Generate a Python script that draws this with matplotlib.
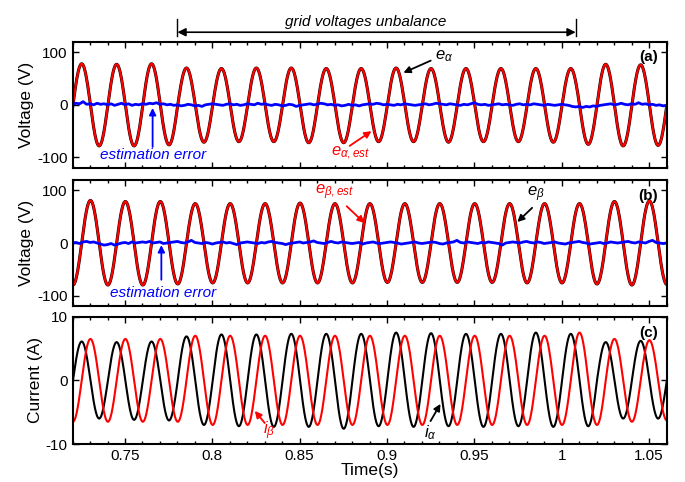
import numpy as np
import matplotlib.pyplot as plt
from matplotlib.ticker import MultipleLocator

plt.rcParams['font.family'] = ['Liberation Sans', 'DejaVu Sans']
plt.rcParams['mathtext.fontset'] = 'custom'
plt.rcParams['mathtext.it'] = 'Liberation Sans:italic'
plt.rcParams['mathtext.rm'] = 'Liberation Sans'
plt.rcParams['axes.unicode_minus'] = False

# --- values ---
F_GRID = 50.0          # Hz
HALF = 0.01            # s, half period
# time of the first half-cycle centre (a trough) for each signal
T0_ALPHA = 0.7152
T0_BETA = 0.7202

# magnitude of each half-cycle (trough, peak, trough, ...) from t0 on
e_alpha_mag = [78, 78, 78, 77, 78, 78, 76, 70, 71, 69, 70, 70, 70, 70, 72, 69, 72, 69,
               70, 70, 70, 69, 71, 69, 70, 69, 70, 69, 71, 69, 75, 77, 78, 76, 77, 76]
e_beta_mag = [80, 81, 80, 79, 80, 79, 78, 75, 76, 75, 76, 75, 76, 76, 76, 75, 76, 75,
              75, 75, 75, 75, 75, 75, 75, 75, 76, 75, 76, 75, 78, 79, 80, 80, 79, 79]
i_alpha_mag = [6.0, 6.1, 6.0, 6.0, 6.2, 6.1, 6.3, 6.9, 7.0, 7.2, 7.2, 7.2, 7.3, 7.3, 7.3, 7.3,
               7.6, 7.3, 7.2, 7.5, 7.3, 7.4, 7.2, 7.3, 7.3, 7.3, 7.2, 7.5, 7.3, 7.3, 7.2, 6.0,
               6.0, 6.2, 6.0, 6.0]
i_beta_mag = [6.5, 6.5, 6.5, 6.5, 6.5, 6.5, 6.5, 7.0, 7.0, 7.0, 7.0, 7.0, 7.0, 7.0, 7.0, 7.0,
              7.0, 7.0, 7.0, 7.0, 7.0, 7.0, 7.0, 7.0, 7.0, 7.0, 7.0, 7.0, 7.0, 7.5, 7.0, 6.5,
              6.5, 6.3, 6.3, 6.3]

# estimation error samples, every 2 ms from 0.72 s
err_t = np.round(0.72 + 0.002 * np.arange(171), 4)
err_a = [1, 3, 2, 6, 1, 2, 0, 3, 1, 2,
         0, 2, -1, 1, 3, 0, 2, -1, 1, 0,
         2, 1, 3, 2, 4, 1, 2, 0, 1, -1,
         0, -2, -1, 1, 0, -2, -1, -3, 0, 1,
         2, 1, 0, -1, 1, 2, 0, 1, -1, 0,
         2, 1, 0, 3, 1, 2, 0, -1, 1, 0,
         -2, -1, 1, 0, -3, -1, 0, 1, 2, 0,
         1, 3, 2, 0, 1, -1, 0, -2, -1, 1,
         -1, 0, -2, 0, 1, 2, 1, 3, 2, 0,
         1, 0, -1, 1, 0, 2, 1, 0, -1, 0,
         1, 2, 0, 1, 3, 2, 1, 0, 2, 1,
         0, -1, 1, 0, 2, 4, 1, 0, 1, -1,
         0, 1, 2, 0, 1, 0, -1, 1, 2, 0,
         1, 0, 2, 1, 0, -1, 1, 0, -1, 0,
         1, 0, -1, -3, -4, -3, -5, -3, -4, -2,
         -3, -1, 0, 1, 2, 0, 1, 3, 1, 0,
         2, 1, 4, 1, 2, 0, 1, -1, 0, -2,
         -1]
err_b = [0, 1, -1, 2, 3, 1, 2, 0, -2, -4,
         -3, -1, -4, -2, 0, 1, -1, 2, 0, 1,
         2, 1, 3, 0, 1, 2, -1, 0, 1, 2,
         3, 1, 0, 2, 5, 1, 0, -1, 1, 0,
         -2, 0, 1, 2, 0, 1, -1, -3, 0, 1,
         2, 1, 0, -1, 1, 0, 2, 3, 1, 0,
         -1, -3, -1, 0, 1, 2, 0, 1, 2, 4,
         1, 0, -1, 1, 3, 1, 0, 2, 1, 0,
         -1, 0, 1, -2, 0, 1, 2, 0, -1, 0,
         1, 2, 1, 0, -2, -1, 0, 1, 2, 0,
         -1, 0, 1, 2, 1, -1, -2, 0, 1, 2,
         5, 1, 0, 2, 1, 0, -1, 1, 0, 2,
         1, 0, -1, -4, 0, 1, 2, 1, 0, 2,
         3, 1, 0, 2, 1, -1, 0, 1, 2, 0,
         -1, -2, 0, 1, 2, 3, 1, 0, -2, -1,
         0, 1, -1, 0, 2, 1, 0, 1, 2, 3,
         1, 0, 2, 1, 0, 3, 5, 1, 0, -1,
         0]

XMIN, XMAX = 0.72, 1.06
t = np.arange(XMIN, XMAX + 0.0001, 0.0001)


def half_cycles(t, t0, mags):
    # each half-cycle is a cosine hump with its own magnitude, troughs first
    mags = np.asarray(mags, dtype=float)
    j = np.clip(np.floor((t - t0) / HALF + 0.5).astype(int), 0, len(mags) - 1)
    sign = np.where(j % 2 == 0, -1.0, 1.0)
    return sign * mags[j] * np.cos(2 * np.pi * F_GRID * (t - t0 - HALF * j))


e_alpha = half_cycles(t, T0_ALPHA, e_alpha_mag)
e_beta = half_cycles(t, T0_BETA, e_beta_mag)
i_alpha = half_cycles(t, T0_ALPHA, i_alpha_mag)
i_beta = half_cycles(t, T0_BETA, i_beta_mag)

fig = plt.figure(figsize=(6.85, 4.82), dpi=100)
ax1 = fig.add_axes([0.106, 0.6515, 0.867, 0.262])
ax2 = fig.add_axes([0.106, 0.3651, 0.867, 0.2615])
ax3 = fig.add_axes([0.106, 0.0788, 0.867, 0.2642])

FS = 11
LFS = 12.5
AFS = 12
for ax in (ax1, ax2, ax3):
    ax.set_xlim(XMIN, XMAX)
    ax.xaxis.set_major_locator(MultipleLocator(0.05))
    ax.xaxis.set_minor_locator(MultipleLocator(0.01))
    ax.tick_params(which='both', direction='in', top=True, right=True, labelsize=FS, width=1)
    ax.tick_params(which='major', length=4)
    ax.tick_params(which='minor', length=2.5)
    for s in ax.spines.values():
        s.set_linewidth(1.5)

# (a)
ax1.plot(t, e_alpha, color='black', lw=2.2)
ax1.plot(t, e_alpha, color='red', lw=1.6)
ax1.plot(err_t, err_a, color='blue', lw=2)
ax1.set_ylim(-120, 120)
ax1.set_yticks([-100, 0, 100])
ax1.set_xticklabels([])
ax1.set_ylabel('Voltage (V)', fontsize=LFS, labelpad=2)

# (b)
ax2.plot(t, e_beta, color='black', lw=2.2)
ax2.plot(t, e_beta, color='red', lw=1.6)
ax2.plot(err_t, err_b, color='blue', lw=2)
ax2.set_ylim(-120, 120)
ax2.set_yticks([-100, 0, 100])
ax2.set_xticklabels([])
ax2.set_ylabel('Voltage (V)', fontsize=LFS, labelpad=2)

# (c)
ax3.plot(t, i_alpha, color='black', lw=1.5)
ax3.plot(t, i_beta, color='red', lw=1.5)
ax3.set_ylim(-10, 10)
ax3.set_yticks([-10, 0, 10])
ax3.set_xticks([0.75, 0.8, 0.85, 0.9, 0.95, 1.0, 1.05])
ax3.set_xticklabels(['0.75', '0.8', '0.85', '0.9', '0.95', '1', '1.05'])
ax3.set_ylabel('Current (A)', fontsize=LFS, labelpad=2)
ax3.set_xlabel('Time(s)', fontsize=LFS, labelpad=0)

for ax, tag, ytag in ((ax1, '(a)', 90), (ax2, '(b)', 89), (ax3, '(c)', 7.4)):
    ax.text(1.055, ytag, tag, fontsize=FS, fontweight='bold', ha='right', va='center')


def arrow(ax, tail, tip, color):
    ax.annotate('', xy=tip, xytext=tail,
                arrowprops=dict(arrowstyle='-|>', color=color, lw=1.3,
                                mutation_scale=10, shrinkA=0, shrinkB=0))


# annotations (a)
ax1.text(0.9277, 92, r'$e_{\alpha}$', fontsize=AFS, color='black', va='center')
arrow(ax1, (0.925, 84), (0.9094, 61), 'black')
ax1.text(0.8680, -92, r'$e_{\alpha,est}$', fontsize=AFS, color='red', va='center')
arrow(ax1, (0.8786, -78), (0.8911, -50), 'red')
ax1.text(0.7357, -96, 'estimation error', fontsize=FS, style='italic', color='blue', va='center')
arrow(ax1, (0.7658, -80), (0.7658, -6), 'blue')

# annotations (b)
ax2.text(0.8590, 97, r'$e_{\beta,est}$', fontsize=AFS, color='red', va='center')
arrow(ax2, (0.8769, 70), (0.8871, 38), 'red')
ax2.text(0.9800, 92, r'$e_{\beta}$', fontsize=AFS, color='black', va='center')
arrow(ax2, (0.9831, 67), (0.9746, 40), 'black')
ax2.text(0.7414, -95, 'estimation error', fontsize=FS, style='italic', color='blue', va='center')
arrow(ax2, (0.7708, -70), (0.7708, -4), 'blue')

# annotations (c)
ax3.text(0.8290, -7.9, r'$i_{\beta}$', fontsize=AFS, color='red', va='center')
arrow(ax3, (0.830, -6.7), (0.8243, -4.8), 'red')
ax3.text(0.9210, -8.2, r'$i_{\alpha}$', fontsize=AFS, color='black', va='center')
arrow(ax3, (0.9249, -6.4), (0.9306, -3.7), 'black')

# unbalance interval marker above panel (a)
ax1.annotate('', xy=(1.008, 138), xytext=(0.78, 138),
             arrowprops=dict(arrowstyle='<|-|>', color='black', lw=1.2,
                             mutation_scale=12, shrinkA=0, shrinkB=0),
             annotation_clip=False)
for xb in (0.78, 1.008):
    ax1.plot([xb, xb], [130, 164], color='black', lw=1, clip_on=False)
ax1.text(0.8877, 157, 'grid voltages unbalance', fontsize=FS, style='italic',
         ha='center', va='center')

fig.savefig('out.png', dpi=100)
